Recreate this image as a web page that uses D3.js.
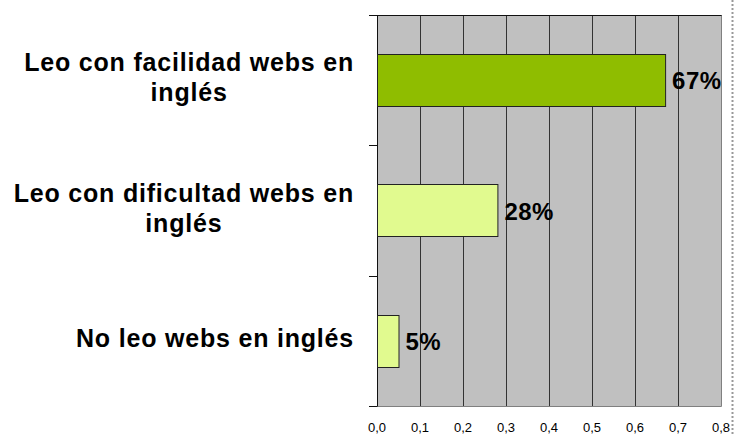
<!DOCTYPE html>
<html>
<head>
<meta charset="utf-8">
<script src="https://cdn.jsdelivr.net/npm/d3@7"></script>
<style>
  html, body { margin: 0; padding: 0; background: #fff; }
  svg { display: block; font-family: Arial, "Liberation Sans", sans-serif; }
</style>
</head>
<body>
<svg id="chart" width="736" height="435"></svg>
<script>
// Survey answers (top to bottom) and their shares
const categories = [
  ["Leo con facilidad webs en", "inglés"],
  ["Leo con dificultad webs en", "inglés"],
  ["No leo webs en inglés"]
];
const values = [0.67, 0.28, 0.05];
const valueLabels = ["67%", "28%", "5%"];
const barColors = ["#8fbd00", "#e1fa8f", "#e1fa8f"];
const xTicks = [0, 0.1, 0.2, 0.3, 0.4, 0.5, 0.6, 0.7, 0.8];
const xTickLabels = ["0,0", "0,1", "0,2", "0,3", "0,4", "0,5", "0,6", "0,7", "0,8"];

const svg = d3.select("#chart");
const plot = { left: 377, right: 721, top: 15, bottom: 406 };

const x = d3.scaleLinear().domain([0, 0.8]).range([plot.left, plot.right]);
const y = d3.scaleBand()
  .domain(d3.range(categories.length))
  .range([plot.top, plot.bottom])
  .paddingInner(0.6)
  .paddingOuter(0.3);

// plot background
svg.append("rect")
  .attr("x", plot.left).attr("y", plot.top)
  .attr("width", plot.right - plot.left).attr("height", plot.bottom - plot.top)
  .attr("fill", "#c0c0c0");

// vertical gridlines
svg.append("g").selectAll("line")
  .data(xTicks.slice(1, -1))
  .join("line")
  .attr("x1", d => Math.round(x(d)) + 0.5).attr("x2", d => Math.round(x(d)) + 0.5)
  .attr("y1", plot.top).attr("y2", plot.bottom)
  .attr("stroke", "#333").attr("stroke-width", 1);

// plot frame: right and bottom edges in grey
svg.append("path")
  .attr("d", `M${plot.right + 0.5},${plot.top}V${plot.bottom + 0.5}H${plot.left}`)
  .attr("fill", "none").attr("stroke", "#808080").attr("stroke-width", 1);

// top edge
svg.append("line")
  .attr("x1", plot.left - 8).attr("x2", plot.right + 0.5)
  .attr("y1", plot.top + 0.5).attr("y2", plot.top + 0.5)
  .attr("stroke", "#111");

// category axis line with ticks between categories
const bounds = d3.range(categories.length + 1).map(i => plot.top + i * (plot.bottom - plot.top) / categories.length);
svg.append("line")
  .attr("x1", plot.left + 0.5).attr("x2", plot.left + 0.5)
  .attr("y1", plot.top).attr("y2", plot.bottom + 0.5)
  .attr("stroke", "#111");
svg.append("g").selectAll("line")
  .data(bounds)
  .join("line")
  .attr("x1", plot.left - 8).attr("x2", plot.left)
  .attr("y1", d => Math.round(d) + 0.5).attr("y2", d => Math.round(d) + 0.5)
  .attr("stroke", "#111");

// bars
svg.append("g").selectAll("rect")
  .data(values)
  .join("rect")
  .attr("x", plot.left + 0.5)
  .attr("y", (d, i) => Math.round(y(i)) + 0.5)
  .attr("width", d => x(d) - plot.left)
  .attr("height", Math.round(y.bandwidth()))
  .attr("fill", (d, i) => barColors[i])
  .attr("stroke", "#222").attr("stroke-width", 1);

// value labels
svg.append("g").selectAll("text")
  .data(values)
  .join("text")
  .attr("x", d => x(d) + 7)
  .attr("y", (d, i) => y(i) + y.bandwidth() / 2 + 9)
  .attr("font-size", "24px").attr("font-weight", "bold")
  .attr("letter-spacing", "0.5px")
  .attr("fill", "#000")
  .text((d, i) => valueLabels[i]);

// category labels, centred block, right edge near the axis
const labelG = svg.append("g");
categories.forEach((lines, i) => {
  const cy = y(i) + y.bandwidth() / 2;
  const t = labelG.append("text")
    .attr("font-size", "25px").attr("font-weight", "bold").attr("fill", "#000")
    .attr("letter-spacing", "0.8px")
    .attr("text-anchor", "middle");
  const lineH = 30;
  const firstBase = cy + 6 - (lines.length - 1) * lineH / 2;
  lines.forEach((ln, j) => {
    t.append("tspan").attr("y", firstBase + j * lineH).text(ln);
  });
  // centre the block so its widest line ends at x=354
  const w = d3.max(t.selectAll("tspan").nodes(), n => n.getComputedTextLength());
  t.selectAll("tspan").attr("x", 354 - w / 2);
});

// value axis tick labels
svg.append("g").selectAll("text")
  .data(xTicks)
  .join("text")
  .attr("x", d => x(d))
  .attr("y", 432)
  .attr("text-anchor", "middle")
  .attr("font-size", "13px").attr("fill", "#000")
  .text((d, i) => xTickLabels[i]);

// dotted frame line on the right
svg.append("line")
  .attr("x1", 732.5).attr("x2", 732.5)
  .attr("y1", 0).attr("y2", 435)
  .attr("stroke", "#999").attr("stroke-width", 2)
  .attr("stroke-dasharray", "2,2");
</script>
</body>
</html>
